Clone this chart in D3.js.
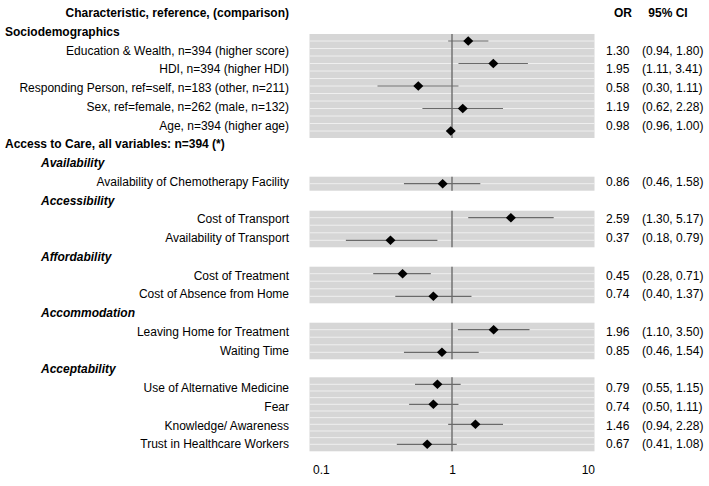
<!DOCTYPE html>
<html><head><meta charset="utf-8">
<script src="https://cdn.jsdelivr.net/npm/d3@7"></script>
<style>
body{margin:0;background:#fff}
svg text{font-family:"Liberation Sans", Arial, Helvetica, sans-serif;font-size:12px;fill:#000}
</style>
</head><body>
<svg id="c" width="709" height="486"></svg>
<script>
// ---------- data ----------
const categories = [
  "Education & Wealth, n=394 (higher score)",
  "HDI, n=394 (higher HDI)",
  "Responding Person, ref=self, n=183 (other, n=211)",
  "Sex, ref=female, n=262 (male, n=132)",
  "Age, n=394 (higher age)",
  "Availability of Chemotherapy Facility",
  "Cost of Transport",
  "Availability of Transport",
  "Cost of Treatment",
  "Cost of Absence from Home",
  "Leaving Home for Treatment",
  "Waiting Time",
  "Use of Alternative Medicine",
  "Fear",
  "Knowledge/ Awareness",
  "Trust in Healthcare Workers"
];
const groups = [
  "Sociodemographics","Sociodemographics","Sociodemographics","Sociodemographics","Sociodemographics",
  "Availability",
  "Accessibility","Accessibility",
  "Affordability","Affordability",
  "Accommodation","Accommodation",
  "Acceptability","Acceptability","Acceptability","Acceptability"
];
const orValues = [1.30, 1.95, 0.58, 1.19, 0.98, 0.86, 2.59, 0.37, 0.45, 0.74, 1.96, 0.85, 0.79, 0.74, 1.46, 0.67];
const ciLower  = [0.94, 1.11, 0.30, 0.62, 0.96, 0.46, 1.30, 0.18, 0.28, 0.40, 1.10, 0.46, 0.55, 0.50, 0.94, 0.41];
const ciUpper  = [1.80, 3.41, 1.11, 2.28, 1.00, 1.58, 5.17, 0.79, 0.71, 1.37, 3.50, 1.54, 1.15, 1.11, 2.28, 1.08];
const sectionTitles = ["Sociodemographics", "Access to Care, all variables: n=394 (*)"];
const groupTitles = ["Availability", "Accessibility", "Affordability", "Accommodation", "Acceptability"];
const headerLabels = ["Characteristic, reference, (comparison)", "OR", "95% CI"];
const xTickValues = [0.1, 1, 10];
const xTickLabels = ["0.1", "1", "10"];

// ---------- layout ----------
const svg = d3.select("#c");
const x = d3.scaleLog().domain([0.1, 10]).range([309.5, 594.5]);
const fmt = d3.format(".2f");

// table rows
const tableRows = [{type: "header"}, {type: "section", text: sectionTitles[0]}];
categories.forEach((c, i) => { if (groups[i] === "Sociodemographics") tableRows.push({type: "item", i}); });
tableRows.push({type: "section", text: sectionTitles[1]});
groupTitles.forEach(g => {
  tableRows.push({type: "group", text: g});
  categories.forEach((c, i) => { if (groups[i] === g) tableRows.push({type: "item", i}); });
});
const yText = d3.scaleLinear().domain([0, tableRows.length - 1]).range([12.7, 444]);
const base = 4.3; // baseline offset from visual centre

const labelX = 289, sectionX = 5, groupX = 41, orX = 606, ciX = 642;
const tt = svg.append("g");
tableRows.forEach((r, k) => {
  const y = yText(k) + base;
  if (r.type === "header") {
    tt.append("text").attr("x", labelX).attr("y", y).attr("text-anchor", "end").attr("font-weight", "bold").text(headerLabels[0]);
    tt.append("text").attr("x", 623).attr("y", y).attr("text-anchor", "middle").attr("font-weight", "bold").text(headerLabels[1]);
    tt.append("text").attr("x", 668).attr("y", y).attr("text-anchor", "middle").attr("font-weight", "bold").text(headerLabels[2]);
  } else if (r.type === "section") {
    tt.append("text").attr("x", sectionX).attr("y", y).attr("font-weight", "bold").text(r.text);
  } else if (r.type === "group") {
    tt.append("text").attr("x", groupX).attr("y", y).attr("font-weight", "bold").attr("font-style", "italic").text(r.text);
  } else {
    tt.append("text").attr("x", labelX).attr("y", y).attr("text-anchor", "end").text(categories[r.i]);
    tt.append("text").attr("x", orX).attr("y", y).text(fmt(orValues[r.i]));
    tt.append("text").attr("x", ciX).attr("y", y).text("(" + fmt(ciLower[r.i]) + ", " + fmt(ciUpper[r.i]) + ")");
  }
});

// graph blocks (layout of panels)
const blockLayout = {
  "Sociodemographics": {top: 34, pitch: 22.5},
  "Availability": {top: 176.7, pitch: 22.5},
  "Accessibility": {top: 210.7, pitch: 22.6},
  "Affordability": {top: 266.7, pitch: 22.6},
  "Accommodation": {top: 322.7, pitch: 22.6},
  "Acceptability": {top: 377.3, pitch: 20}
};
const pad = 7;
const plot = svg.append("g");
["Sociodemographics"].concat(groupTitles).forEach(g => {
  const idx = categories.map((c, i) => i).filter(i => groups[i] === g);
  const n = idx.length;
  const L = blockLayout[g];
  const yRow = d3.scaleLinear().domain([0, Math.max(1, n - 1)])
    .range([L.top + pad, L.top + pad + L.pitch * Math.max(1, n - 1)]);
  const bottom = L.top + 2 * pad + L.pitch * (n - 1);
  plot.append("rect").attr("x", x.range()[0]).attr("y", L.top)
    .attr("width", x.range()[1] - x.range()[0]).attr("height", bottom - L.top)
    .attr("fill", "#d6d6d6");
  const stripes = d3.range(0, 3 * (n - 1) + 1).map(k => k / 3);
  plot.selectAll(null).data(stripes).enter().append("line")
    .attr("x1", x.range()[0]).attr("x2", x.range()[1])
    .attr("y1", d => yRow(d)).attr("y2", d => yRow(d))
    .attr("stroke", "#efefef").attr("stroke-width", 1);
  plot.append("line").attr("x1", x(1)).attr("x2", x(1)).attr("y1", L.top).attr("y2", bottom)
    .attr("stroke", "#737373").attr("stroke-width", 1.5);
  idx.forEach((i, j) => {
    plot.append("line").attr("x1", x(ciLower[i])).attr("x2", x(ciUpper[i]))
      .attr("y1", yRow(j)).attr("y2", yRow(j)).attr("stroke", "#6a6a6a").attr("stroke-width", 1.2);
    plot.append("path").attr("d", "M0,-4.8L5,0L0,4.8L-5,0Z")
      .attr("transform", `translate(${x(orValues[i])},${yRow(j)})`).attr("fill", "#000");
  });
});

// x axis
const ax = svg.append("g").attr("transform", "translate(0,462)")
  .call(d3.axisBottom(x).tickValues(xTickValues).tickFormat((d, i) => xTickLabels[i]).tickSize(0));
ax.select(".domain").remove();
ax.attr("font-size", null).attr("font-family", null);
ax.selectAll("text").attr("fill", "#000")
  .attr("text-anchor", (d, i) => i === 0 ? "start" : (i === xTickValues.length - 1 ? "end" : "middle"))
  .attr("dx", (d, i) => i === 0 ? 3 : 0);
</script>
</body></html>
